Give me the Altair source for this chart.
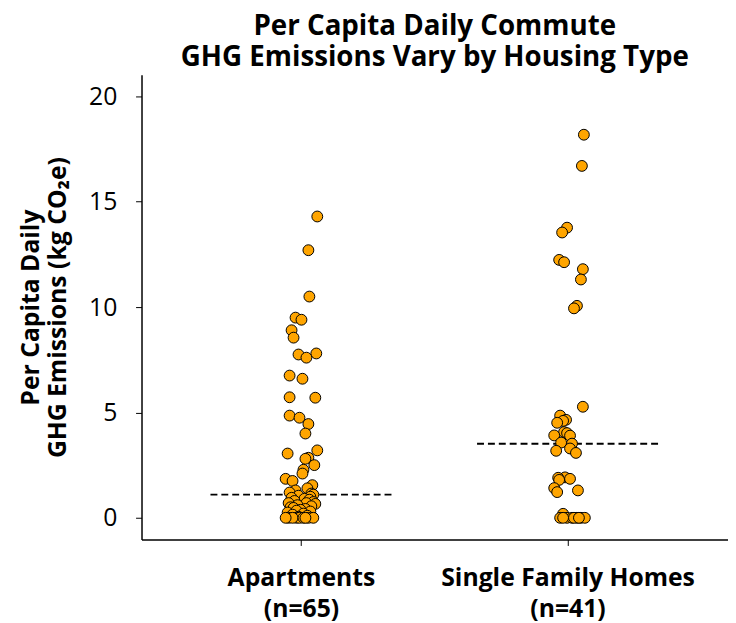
import altair as alt
import pandas as pd

categories = ["Apartments", "Single Family Homes"]

apt_values = [14.3, 12.7, 10.5, 9.5, 9.4, 8.9, 8.55, 7.8, 7.75, 7.6, 6.75, 6.6, 5.72, 5.7,
              4.85, 4.75, 4.45, 4.0, 3.2, 3.05, 2.85, 2.8, 2.5, 2.28, 2.1, 1.85, 1.75, 1.55,
              1.4, 1.3, 1.2, 1.15, 1.1, 1.05, 1.0, 0.95, 0.9, 0.86, 0.8, 0.75, 0.7, 0.7,
              0.66, 0.6, 0.55, 0.5, 0.47, 0.42, 0.38, 0.34, 0.3, 0.25, 0.2, 0.15, 0.1, 0.05,
              0, 0, 0, 0, 0, 0, 0, 0, 0]
apt_jitter = [16, 7, 8, -6, 0, -10, -8, 15, -3, 5, -12, 1, -12, 14,
              -12, -2, 7, 4, 16, -14, 7, 4, 13, 2, 1, -16, -9, 11,
              6, -6, -12, 10, 12, -3, 9, -10, 3, 8, -7, 12, -13, 5,
              14, -4, 10, -11, -8, 4, -1, -5, 9, -14, 2, -9, 6, -3,
              -13, -5, -2, 7, 12, -9, 2, 4, -16]

sfh_values = [18.18, 16.7, 13.77, 13.54, 12.24, 12.13, 11.8, 11.31, 10.06, 9.94,
              5.27, 4.85, 4.65, 4.6, 4.51, 4.07, 4.02, 3.91, 3.9, 3.57, 3.52,
              3.29, 3.18, 3.08, 1.92, 1.9, 1.85, 1.8, 1.41, 1.3, 1.22, 0.19,
              0, 0, 0, 0, 0, 0, 0, 0, 0]
sfh_jitter = [16, 14, -1, -6, -9, -4, 15, 13, 9, 6,
              15, -8, -2, -5, -11, -4, -1, -14, 2, -7, 4,
              2, -12, 8, -3, -10, 2, -9, -14, 10, -11, -5,
              -8, -1, 4, 9, 13, 17, -5, 6, 11]

counts = {categories[0]: len(apt_values), categories[1]: len(sfh_values)}

df = pd.DataFrame({
    "type": [categories[0]] * len(apt_values) + [categories[1]] * len(sfh_values),
    "value": apt_values + sfh_values,
    "jitter": apt_jitter + sfh_jitter,
})

label_expr = " : ".join(
    [f"datum.label == '{c}' ? ['{c}', '(n={counts[c]})']" for c in categories]
) + " : datum.label"

FONT = "Open Sans"
WIDTH = 593
BAND_HALF = WIDTH / 2.2 / 2

x_enc = alt.X(
    "type:N",
    sort=categories,
    scale=alt.Scale(paddingInner=0, paddingOuter=0.1),
    axis=alt.Axis(
        title=None,
        labelAngle=0,
        labelAlign="center",
        labelLimit=500,
        labelExpr=label_expr,
        labelFontSize=25,
        labelFontWeight="bold",
        labelFont=FONT,
        labelColor="black",
        labelPadding=32,
        labelLineHeight=32,
        tickSize=6,
        tickColor="black",
        domainColor="black",
        domainWidth=1.5,
    ),
)

y_enc = alt.Y(
    "value:Q",
    scale=alt.Scale(domain=[-1.03, 21.03], nice=False, zero=False),
    axis=alt.Axis(
        title=["Per Capita Daily", "GHG Emissions (kg CO\u2082e)"],
        titleFontSize=25,
        titleFontWeight="bold",
        titleFont=FONT,
        titleColor="black",
        titleLineHeight=28,
        titlePadding=18,
        values=[0, 5, 10, 15, 20],
        labelFontSize=25,
        labelFont=FONT,
        labelColor="black",
        labelPadding=19,
        tickSize=6,
        tickColor="black",
        domainColor="black",
        domainWidth=1.5,
        grid=False,
    ),
)

points = alt.Chart(df).mark_circle(
    size=120, color="#FFA500", opacity=1, stroke="black", strokeWidth=1
).encode(
    x=x_enc,
    xOffset=alt.XOffset(
        "jitter:Q",
        scale=alt.Scale(domain=[-20, 20], range=[BAND_HALF - 20, BAND_HALF + 20]),
    ),
    y=y_enc,
)

medians = alt.Chart(df).transform_aggregate(
    med="median(value)", groupby=["type"]
).mark_rule(
    color="black", strokeWidth=2, strokeDash=[7, 4], xOffset=-92, x2Offset=92
).encode(
    x=alt.X("type:N", sort=categories),
    x2=alt.X2("type"),
    y=alt.Y("med:Q"),
)

chart = alt.layer(medians, points).properties(
    width=WIDTH,
    height=470,
    title=alt.TitleParams(
        text=["Per Capita Daily Commute", "GHG Emissions Vary by Housing Type"],
        fontSize=28,
        fontWeight="bold",
        font=FONT,
        color="black",
        lineHeight=31,
        anchor="middle",
        offset=3,
    ),
    autosize=alt.AutoSizeParams(type="none"),
    padding={"left": 135, "top": 64, "right": 0, "bottom": 81},
).configure_view(stroke=None)

chart.save("out.html", embed_options={"renderer": "svg", "actions": False})
